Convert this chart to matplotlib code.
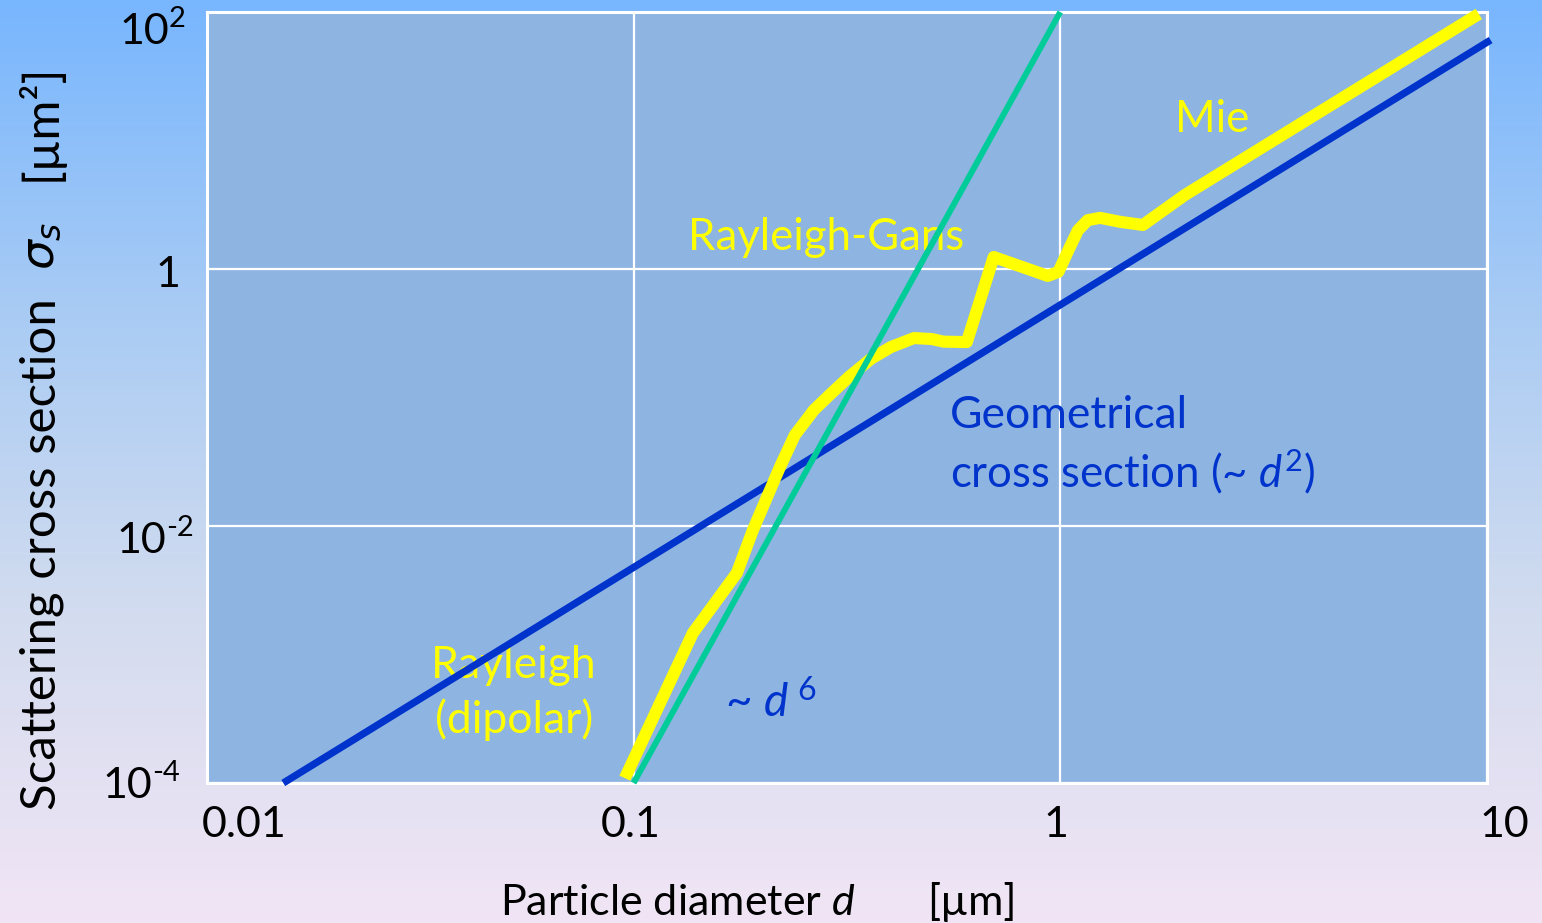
import numpy as np
import matplotlib
matplotlib.use("Agg")
import matplotlib.pyplot as plt
from matplotlib.colors import LinearSegmentedColormap

plt.rcParams['font.family'] = ['Lato', 'DejaVu Sans']
plt.rcParams['mathtext.fontset'] = 'custom'
plt.rcParams['mathtext.rm'] = 'Lato'
plt.rcParams['mathtext.it'] = 'Lato:italic'
plt.rcParams['mathtext.bf'] = 'Lato:bold'

# geometrical cross section (~d^2)
geo_d = [0.0151, 10.2]
geo_s = [1e-4, 60.5]

# Rayleigh / Rayleigh-Gans asymptote (~d^6)
rg_d = [0.1, 1.0]
rg_s = [1e-4, 1e2]

# Mie curve
mie_d = [0.0954, 0.1377, 0.1746, 0.1904, 0.2203, 0.2388, 0.2647, 0.290,
         0.3196, 0.360, 0.401, 0.454, 0.500, 0.533, 0.604, 0.698, 0.935,
         0.990, 1.050, 1.100, 1.160, 1.240, 1.380, 1.562, 1.96, 9.57]
mie_s = [1.09e-4, 1.47e-3, 4.31e-3, 9.3e-3, 0.0288, 0.0511, 0.080, 0.107,
         0.1445, 0.200, 0.247, 0.290, 0.285, 0.272, 0.270, 1.24, 0.883,
         0.95, 1.45, 2.00, 2.40, 2.50, 2.33, 2.20, 3.77, 96.5]

x_ticks = [0.01, 0.1, 1, 10]
x_labels = ['0.01', '0.1', '1', '10']
y_ticks = [1e-4, 1e-2, 1, 1e2]
y_bases = ['10', '10', '1', '10']
y_powers = ['-4', '-2', '', '2']

fig = plt.figure(figsize=(15.42, 9.23), dpi=100)

# background gradient
bg = fig.add_axes([0, 0, 1, 1], zorder=-10)
cmap = LinearSegmentedColormap.from_list(
    'bg', ['#78b6fe', '#a8cbf4', '#d3dcef', '#f1e5f5'])
grad = np.linspace(0, 1, 256).reshape(-1, 1)
bg.imshow(grad, aspect='auto', cmap=cmap, extent=[0, 1, 0, 1])
bg.axis('off')

ax = fig.add_axes([0.1342, 0.1517, 0.8301, 0.8353])
ax.set_facecolor('#8eb4e2')
ax.set_xscale('log')
ax.set_yscale('log')
ax.set_xlim(0.01, 10)
ax.set_ylim(1e-4, 1e2)
ax.set_axisbelow(True)
ax.grid(True, which='major', color='white', lw=1.6)
ax.minorticks_off()
for s in ax.spines.values():
    s.set_color('white')
    s.set_linewidth(2.2)

ax.set_xticks(x_ticks)
ax.set_yticks(y_ticks)
ax.set_xticklabels([])
ax.set_yticklabels([])
ax.tick_params(length=0)

ax.plot(geo_d, geo_s, color='#0033cc', lw=5.2, solid_capstyle='butt',
        clip_on=False, zorder=3)
ax.plot(mie_d, mie_s, color='#ffff00', lw=8.7, solid_capstyle='butt',
        solid_joinstyle='round', clip_on=False, zorder=4)
ax.plot(rg_d, rg_s, color='#00cc99', lw=4.3, solid_capstyle='butt',
        clip_on=False, zorder=5)

# tick labels (placed like the original slide)
x_off = [37, -3, -4, 17]
for xv, lab, dx in zip(x_ticks, x_labels, x_off):
    ax.annotate(lab, xy=(xv, 0), xycoords=('data', 'axes fraction'),
                xytext=(dx, -42), textcoords='offset pixels',
                ha='center', va='center', fontsize=31)
# right edge of the base number and vertical shift, pixels
y_off = [(-55, -3), (-41, -15), (-27, -6), (-38, -20)]
for yv, base, pw, (dx, dy) in zip(y_ticks, y_bases, y_powers, y_off):
    ax.annotate(base, xy=(0, yv), xycoords=('axes fraction', 'data'),
                xytext=(dx, dy), textcoords='offset pixels',
                ha='right', va='center', fontsize=31)
    if pw:
        ax.annotate(pw, xy=(0, yv), xycoords=('axes fraction', 'data'),
                    xytext=(dx, dy + 13), textcoords='offset pixels',
                    ha='left', va='center', fontsize=21)

# annotations
ax.text(0.134, 1.41, 'Rayleigh-Gans', color='#ffff00', fontsize=31.5,
        va='baseline', zorder=2)
ax.text(1.856, 11.6, 'Mie', color='#ffff00', fontsize=31.5,
        va='baseline', zorder=2)
ax.text(0.0524, 6.56e-4, 'Rayleigh', color='#ffff00', fontsize=32,
        ha='center', va='baseline', zorder=2)
ax.text(0.0524, 2.45e-4, '(dipolar)', color='#ffff00', fontsize=32,
        ha='center', va='baseline', zorder=2)
ax.text(0.551, 0.058, 'Geometrical', color='#0033cc', fontsize=32,
        va='baseline', zorder=2)
ax.text(0.551, 0.0201, r'cross section (~ $d^{2}$)', color='#0033cc',
        fontsize=31.5, va='baseline', zorder=2)
ax.text(0.1637, 3.26e-4, r'~ $d^{\;\mathit{6}}$', color='#0033cc',
        fontsize=33, va='baseline', zorder=2)

# axis labels
fig.text(500 / 1542, 1 - 915 / 923, r'Particle diameter $d$', fontsize=31,
         ha='left', va='baseline')
fig.text(927 / 1542, 1 - 915 / 923, '[µm]', fontsize=31,
         ha='left', va='baseline')
fig.text(42 / 1542, 1 - 554 / 923, 'Scattering cross section',
         fontsize=35.5, rotation=90, ha='center', va='center')
fig.text(42 / 1542, 1 - 246 / 923, r'$\sigma_s$', fontsize=34,
         rotation=90, ha='center', va='center', math_fontfamily='dejavusans')
fig.text(40 / 1542, 1 - 122 / 923, '[µm²]', fontsize=35, rotation=90,
         ha='center', va='center')

fig.savefig('out.png', dpi=100)
